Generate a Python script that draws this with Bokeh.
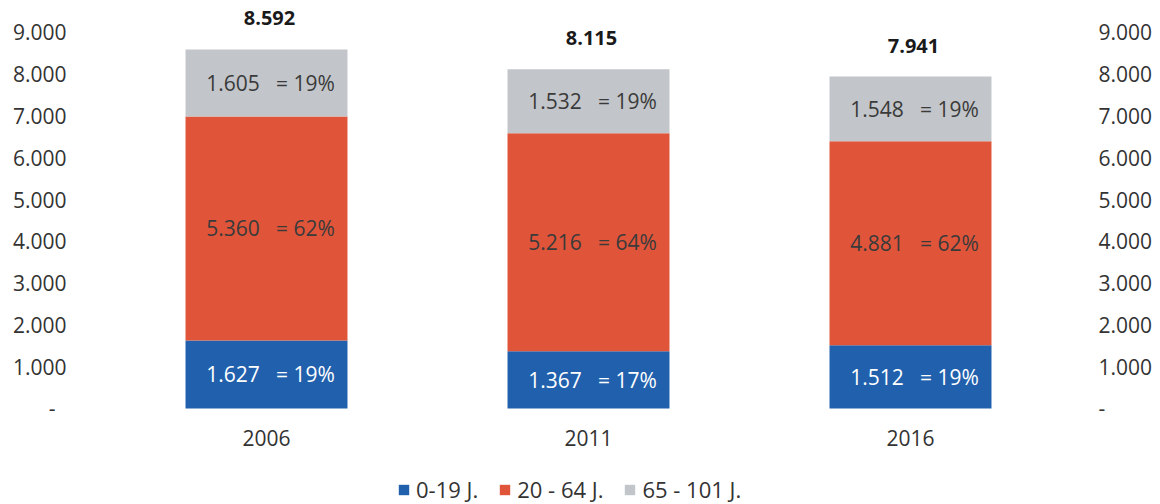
from bokeh.plotting import figure
from bokeh.models import (ColumnDataSource, FactorRange, Range1d, LinearAxis, FixedTicker,
                          CustomJSTickFormatter, Legend, LegendItem)
from bokeh.core.properties import value
from bokeh.embed import file_html
from bokeh.resources import INLINE

years = ["2006", "2011", "2016"]
age_0_19 = [1627, 1367, 1512]
age_20_64 = [5360, 5216, 4881]
age_65_101 = [1605, 1532, 1548]
pct_0_19 = [19, 17, 19]
pct_20_64 = [62, 64, 62]
pct_65_101 = [19, 19, 19]
groups = ["0-19 J.", "20 - 64 J.", "65 - 101 J."]
colors = ["#2160ad", "#e0553a", "#c2c5c9"]
text_colors = ["#ffffff", "#3a3a3a", "#3a3a3a"]
y_ticks = [0, 1000, 2000, 3000, 4000, 5000, 6000, 7000, 8000, 9000]

FONT = "Open Sans"
NB = "\u00a0"


def fmt(n):
    return f"{n:,}".replace(",", ".")


series = [age_0_19, age_20_64, age_65_101]
pcts = [pct_0_19, pct_20_64, pct_65_101]
totals = [a + b + c for a, b, c in zip(*series)]

# frame extends below zero so that the category labels and legend sit inside it
p = figure(x_range=FactorRange(*years, range_padding=0), y_range=Range1d(-2297, 9570),
           frame_width=966, frame_height=496, output_backend="svg", toolbar_location=None,
           min_border_left=105, min_border_right=89, min_border_top=8, min_border_bottom=0)
p.outline_line_color = None
p.xgrid.grid_line_color = None
p.ygrid.grid_line_color = None
p.xaxis.visible = False

bottoms = [0, 0, 0]
renderers = []
for i, vals in enumerate(series):
    tops = [b + v for b, v in zip(bottoms, vals)]
    mids = [(b + t) / 2 for b, t in zip(bottoms, tops)]
    labels = [fmt(v) + NB * 2 + " = " + str(pc) + "%" for v, pc in zip(vals, pcts[i])]
    src = ColumnDataSource(dict(x=years, bottom=bottoms, top=tops, mid=mids, label=labels))
    r = p.vbar(x="x", bottom="bottom", top="top", width=0.503, source=src,
               fill_color=colors[i], line_color=None)
    renderers.append(r)
    p.text(x="x", y="mid", text="label", source=src, text_align="center",
           text_baseline="middle", text_font=value(FONT), text_font_size="21px",
           text_color=text_colors[i], x_offset=4)
    bottoms = tops

tsrc = ColumnDataSource(dict(x=years, y=totals, label=[fmt(t) for t in totals]))
p.text(x="x", y="y", text="label", source=tsrc, text_align="center", text_baseline="middle",
       y_offset=-31, x_offset=3, text_font=value(FONT), text_font_size="20px",
       text_font_style="bold", text_color="#1a1a1a")

# category labels
csrc = ColumnDataSource(dict(x=years, y=[0] * len(years), label=years))
p.text(x="x", y="y", text="label", source=csrc, text_align="center", text_baseline="middle",
       y_offset=30, text_font=value(FONT), text_font_size="21px", text_color="#333333")

left_fmt = CustomJSTickFormatter(code="""
if (tick == 0) { return "-\\u00a0\\u00a0"; }
return Math.round(tick).toString().replace(/\\B(?=(\\d{3})+(?!\\d))/g, ".");
""")
right_fmt = CustomJSTickFormatter(code="""
if (tick == 0) { return "-"; }
return Math.round(tick).toString().replace(/\\B(?=(\\d{3})+(?!\\d))/g, ".");
""")

ya = p.yaxis[0]
ya.ticker = FixedTicker(ticks=y_ticks)
ya.formatter = left_fmt
ya.axis_line_color = None
ya.major_tick_line_color = None
ya.minor_tick_line_color = None
ya.major_label_text_font = FONT
ya.major_label_text_font_size = "21px"
ya.major_label_text_color = "#333333"
ya.major_label_standoff = 33

ra = LinearAxis(ticker=FixedTicker(ticks=y_ticks), formatter=right_fmt)
ra.axis_line_color = None
ra.major_tick_line_color = None
ra.minor_tick_line_color = None
ra.major_label_text_font = FONT
ra.major_label_text_font_size = "21px"
ra.major_label_text_color = "#333333"
ra.major_label_standoff = 21
p.add_layout(ra, "right")

legend = Legend(items=[LegendItem(label=g, renderers=[r]) for g, r in zip(groups, renderers)],
                orientation="horizontal", location=(292, 0))
legend.border_line_color = None
legend.background_fill_alpha = 0
legend.label_text_font = FONT
legend.label_text_font_size = "22px"
legend.label_text_color = "#333333"
legend.glyph_width = 13
legend.glyph_height = 13
legend.label_standoff = 6
legend.spacing = 20
legend.padding = 0
legend.margin = 0
p.add_layout(legend)

open("out.html", "w").write(file_html(p, INLINE))
